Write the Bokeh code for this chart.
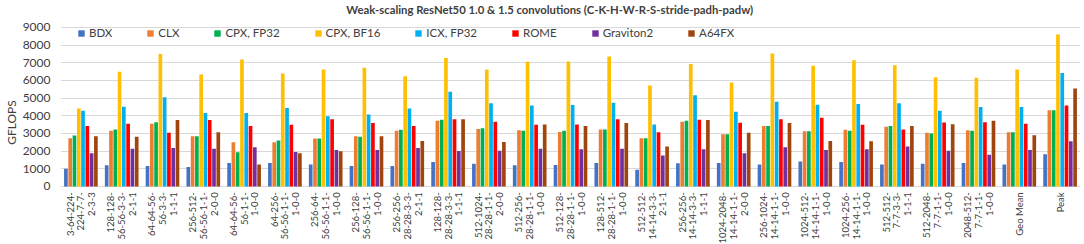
from bokeh.plotting import figure
from bokeh.models import FactorRange, Legend, LegendItem, FixedTicker, Title, ColumnDataSource
from bokeh.transform import dodge
from bokeh.core.properties import value
from bokeh.embed import file_html
from bokeh.resources import INLINE
from math import pi

categories = [
    "3-64-224-224-7-7-2-3-3", "128-128-56-56-3-3-2-1-1", "64-64-56-56-3-3-1-1-1",
    "256-512-56-56-1-1-2-0-0", "64-64-56-56-1-1-1-0-0", "64-256-56-56-1-1-1-0-0",
    "256-64-56-56-1-1-1-0-0", "256-128-56-56-1-1-1-0-0", "256-256-28-28-3-3-2-1-1",
    "128-128-28-28-3-3-1-1-1", "512-1024-28-28-1-1-2-0-0", "512-256-28-28-1-1-1-0-0",
    "512-128-28-28-1-1-1-0-0", "128-512-28-28-1-1-1-0-0", "512-512-14-14-3-3-2-1-1",
    "256-256-14-14-3-3-1-1-1", "1024-2048-14-14-1-1-2-0-0", "256-1024-14-14-1-1-1-0-0",
    "1024-512-14-14-1-1-1-0-0", "1024-256-14-14-1-1-1-0-0", "512-512-7-7-3-3-1-1-1",
    "512-2048-7-7-1-1-1-0-0", "2048-512-7-7-1-1-1-0-0", "Geo Mean", "Peak",
]
# tick labels as wrapped in the reference (one list of lines per category)
tick_labels = [
    ["3-64-224-", "224-7-7-", "2-3-3"], ["128-128-", "56-56-3-3-", "2-1-1"],
    ["64-64-56-", "56-3-3-", "1-1-1"], ["256-512-", "56-56-1-1-", "2-0-0"],
    ["64-64-56-", "56-1-1-", "1-0-0"], ["64-256-", "56-56-1-1-", "1-0-0"],
    ["256-64-", "56-56-1-1-", "1-0-0"], ["256-128-", "56-56-1-1-", "1-0-0"],
    ["256-256-", "28-28-3-3-", "2-1-1"], ["128-128-", "28-28-3-3-", "1-1-1"],
    ["512-1024-", "28-28-1-1-", "2-0-0"], ["512-256-", "28-28-1-1-", "1-0-0"],
    ["512-128-", "28-28-1-1-", "1-0-0"], ["128-512-", "28-28-1-1-", "1-0-0"],
    ["512-512-", "14-14-3-3-", "2-1-1"], ["256-256-", "14-14-3-3-", "1-1-1"],
    ["1024-2048-", "14-14-1-1-", "2-0-0"], ["256-1024-", "14-14-1-1-", "1-0-0"],
    ["1024-512-", "14-14-1-1-", "1-0-0"], ["1024-256-", "14-14-1-1-", "1-0-0"],
    ["512-512-", "7-7-3-3-", "1-1-1"], ["512-2048-", "7-7-1-1-", "1-0-0"],
    ["2048-512-", "7-7-1-1-", "1-0-0"], ["Geo Mean"], ["Peak"],
]
y_ticks = [0, 1000, 2000, 3000, 4000, 5000, 6000, 7000, 8000, 9000]
title_text = "Weak-scaling ResNet50 1.0 & 1.5 convolutions (C-K-H-W-R-S-stride-padh-padw)"

series_names = ["BDX", "CLX", "CPX, FP32", "CPX, BF16", "ICX, FP32", "ROME", "Graviton2", "A64FX"]

bdx = [1000, 1200, 1160, 1100, 1330, 1330, 1250, 1160, 1160, 1390, 1290, 1200, 1210,
       1330, 950, 1310, 1330, 1250, 1410, 1390, 1250, 1290, 1330, 1250, 1820]
clx = [2730, 3150, 3550, 2850, 2500, 2500, 2710, 2850, 3150, 3720, 3260, 3190, 3090,
       3230, 2730, 3660, 2960, 3430, 3130, 3210, 3380, 3040, 3190, 3070, 4310]
cpx_fp32 = [2880, 3230, 3640, 2850, 1940, 2600, 2710, 2810, 3210, 3780, 3300, 3150, 3150,
            3230, 2730, 3720, 2960, 3430, 3130, 3150, 3420, 3000, 3150, 3070, 4310]
cpx_bf16 = [4420, 6490, 7500, 6340, 7190, 6390, 6620, 6720, 6240, 7270, 6620, 7060, 7080,
            7360, 5710, 6940, 5880, 7530, 6830, 7150, 6870, 6190, 6150, 6620, 8610]
icx_fp32 = [4290, 4520, 5050, 4160, 4160, 4440, 3970, 4080, 4420, 5370, 4710, 4590, 4610,
            4740, 3510, 5160, 4230, 4800, 4630, 4670, 4710, 4290, 4500, 4500, 6430]
rome = [3430, 3550, 3040, 3760, 3430, 3490, 3810, 3590, 3430, 3810, 3660, 3490, 3510,
        3810, 3070, 3780, 3610, 3810, 3890, 3490, 3230, 3620, 3640, 3550, 4590]
graviton2 = [1880, 2140, 2180, 2130, 2220, 1950, 2070, 2070, 2180, 2010, 2030, 2130, 2110,
             2140, 1760, 2110, 1880, 2220, 2070, 2110, 2260, 2030, 1800, 2070, 2560]
a64fx = [2850, 2810, 3760, 3070, 1250, 1880, 1990, 2850, 2580, 3810, 2520, 3510, 3420,
         3590, 2260, 3760, 3040, 3590, 2580, 2560, 3430, 3530, 3720, 2900, 5540]

series_values = [bdx, clx, cpx_fp32, cpx_bf16, icx_fp32, rome, graviton2, a64fx]
colors = ["#4472C4", "#ED7D31", "#00B050", "#FFC000", "#00B0F0", "#FF0000", "#7030A0", "#A0450E"]

FONT = "Lato"
TXT = "#404040"

# The frame spans the whole canvas height: the y range reaches above 9000 (title, legend)
# and below zero (wrapped category labels). 0 -> 186 px, 9000 -> 27 px.
p = figure(
    width=1084, height=244,
    x_range=FactorRange(factors=categories, range_padding=0.0),
    y_range=(-3283, 10528),
    output_backend="svg", toolbar_location=None,
    min_border_left=50, min_border_right=4, min_border_top=0, min_border_bottom=0,
)
p.background_fill_color = "white"
p.border_fill_color = "white"
p.outline_line_color = None

data = {"cat": categories}
for name, vals in zip(series_names, series_values):
    data[name] = vals
src = ColumnDataSource(data)

items = []
step = 0.105
for i, (name, col) in enumerate(zip(series_names, colors)):
    off = (i - 3.5) * step
    r = p.vbar(x=dodge("cat", off, range=p.x_range), top=name, width=0.09,
               source=src, fill_color=col, line_color=None)
    items.append(LegendItem(label=name, renderers=[r]))

legend = Legend(items=items, orientation="horizontal", location=(17, 205))
legend.background_fill_alpha = 0
legend.border_line_color = None
legend.label_text_font = FONT
legend.label_text_font_size = "11.5px"
legend.label_text_color = TXT
legend.glyph_width = 8
legend.glyph_height = 8
legend.label_height = 10
legend.label_standoff = 4
legend.spacing = 34
legend.padding = 2
legend.margin = 0
p.add_layout(legend, "center")

# chart title, drawn inside the (extended) frame
p.text(x=[11.99], y=[10020], text=[title_text], text_align="center", text_baseline="middle",
       text_font=value(FONT), text_font_size="11.3px", text_font_style="bold", text_color=TXT)

p.yaxis.ticker = FixedTicker(ticks=y_ticks)
p.yaxis.major_label_text_font = FONT
p.yaxis.major_label_text_font_size = "12px"
p.yaxis.major_label_text_color = TXT
p.yaxis.axis_line_color = None
p.yaxis.major_tick_line_color = None
p.yaxis.minor_tick_line_color = None
p.yaxis.major_label_standoff = 4
p.add_layout(Title(text="GFLOPS", align="center", offset=9, text_font=FONT,
                   text_font_size="12px", text_font_style="normal", text_color=TXT,
                   standoff=2), "left")

p.xaxis.visible = False
p.xgrid.grid_line_color = None
p.ygrid.grid_line_color = "#d9d9d9"

# wrapped, rotated category labels below the baseline
line_gap = 0.267
lines_by_pos = [[], [], []]
for lines in tick_labels:
    if len(lines) == 1:
        row = ["", lines[0], ""]
    else:
        row = lines
    for j in range(3):
        lines_by_pos[j].append(row[j])
for j in range(3):
    s = ColumnDataSource(dict(cat=categories, txt=lines_by_pos[j], y=[-330] * len(categories)))
    p.text(x=dodge("cat", (j - 1) * line_gap, range=p.x_range), y="y", text="txt", source=s,
           angle=pi / 2, text_align="right", text_baseline="middle",
           text_font=value(FONT), text_font_size="9.5px", text_color=TXT)

open("out.html", "w").write(file_html(p, INLINE))
